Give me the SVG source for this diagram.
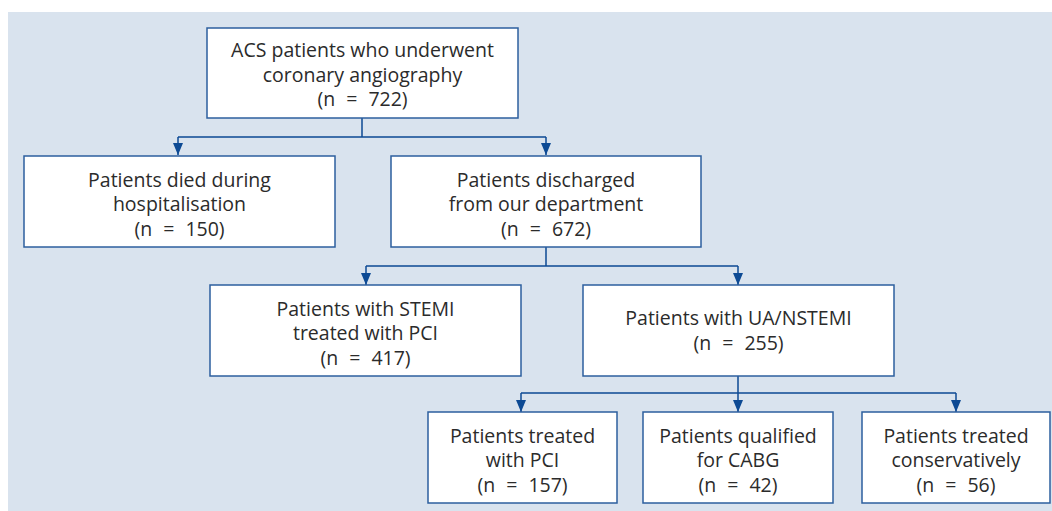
<svg xmlns="http://www.w3.org/2000/svg" width="1052" height="511" viewBox="0 0 1052 511">
<defs>
<marker id="ah" viewBox="0 0 12 10" refX="12" refY="5" markerWidth="12" markerHeight="10" markerUnits="userSpaceOnUse" orient="auto">
<path d="M0,0 L12,5 L0,10 Z" fill="#0d4a94"/>
</marker>
</defs>
<style>
.bg{fill:#d9e3ee}
.box{fill:#ffffff;stroke:#2c5f9e;stroke-width:1.5}
.t{font-family:"Open Sans","Noto Sans",sans-serif;font-size:19.5px;fill:#2b2b2b;text-anchor:middle}
.n{word-spacing:6px}
.c{fill:none;stroke:#0d4a94;stroke-width:1.5}
</style>
<rect class="bg" x="8" y="12" width="1044" height="499"/>
<g id="connectors">
<path class="c" d="M362,118 V137 M178,137 H546"/>
<path class="c" d="M178,137 V155" marker-end="url(#ah)"/>
<path class="c" d="M546,137 V155" marker-end="url(#ah)"/>
<path class="c" d="M546,247 V266 M366,266 H738"/>
<path class="c" d="M366,266 V285" marker-end="url(#ah)"/>
<path class="c" d="M738,266 V285" marker-end="url(#ah)"/>
<path class="c" d="M738,376 V393 M521,393 H956"/>
<path class="c" d="M521,393 V412" marker-end="url(#ah)"/>
<path class="c" d="M738,393 V412" marker-end="url(#ah)"/>
<path class="c" d="M956,393 V412" marker-end="url(#ah)"/>
</g>
<g id="n1">
<rect class="box" x="207" y="28" width="311" height="90"/>
<text class="t" x="362.5" y="57">ACS patients who underwent</text>
<text class="t" x="362.5" y="82">coronary angiography</text>
<text class="t n" x="362.5" y="106">(n = 722)</text>
</g>
<g id="n2">
<rect class="box" x="24" y="156" width="311" height="91"/>
<text class="t" x="179.5" y="187">Patients died during</text>
<text class="t" x="179.5" y="211">hospitalisation</text>
<text class="t n" x="179.5" y="236">(n = 150)</text>
</g>
<g id="n3">
<rect class="box" x="391" y="156" width="310" height="91"/>
<text class="t" x="546" y="187">Patients discharged</text>
<text class="t" x="546" y="211">from our department</text>
<text class="t n" x="546" y="236">(n = 672)</text>
</g>
<g id="n4">
<rect class="box" x="210" y="285" width="311" height="91"/>
<text class="t" x="365.5" y="316">Patients with STEMI</text>
<text class="t" x="365.5" y="340">treated with PCI</text>
<text class="t n" x="365.5" y="365">(n = 417)</text>
</g>
<g id="n5">
<rect class="box" x="583" y="285" width="311" height="91"/>
<text class="t" x="738.5" y="325">Patients with UA/NSTEMI</text>
<text class="t n" x="738.5" y="350">(n = 255)</text>
</g>
<g id="n6">
<rect class="box" x="428" y="412" width="189" height="91"/>
<text class="t" x="522.5" y="443">Patients treated</text>
<text class="t" x="522.5" y="467">with PCI</text>
<text class="t n" x="522.5" y="492">(n = 157)</text>
</g>
<g id="n7">
<rect class="box" x="643" y="412" width="190" height="91"/>
<text class="t" x="738" y="443">Patients qualified</text>
<text class="t" x="738" y="467">for CABG</text>
<text class="t n" x="738" y="492">(n = 42)</text>
</g>
<g id="n8">
<rect class="box" x="862" y="412" width="188" height="91"/>
<text class="t" x="956" y="443">Patients treated</text>
<text class="t" x="956" y="467">conservatively</text>
<text class="t n" x="956" y="492">(n = 56)</text>
</g>
</svg>
